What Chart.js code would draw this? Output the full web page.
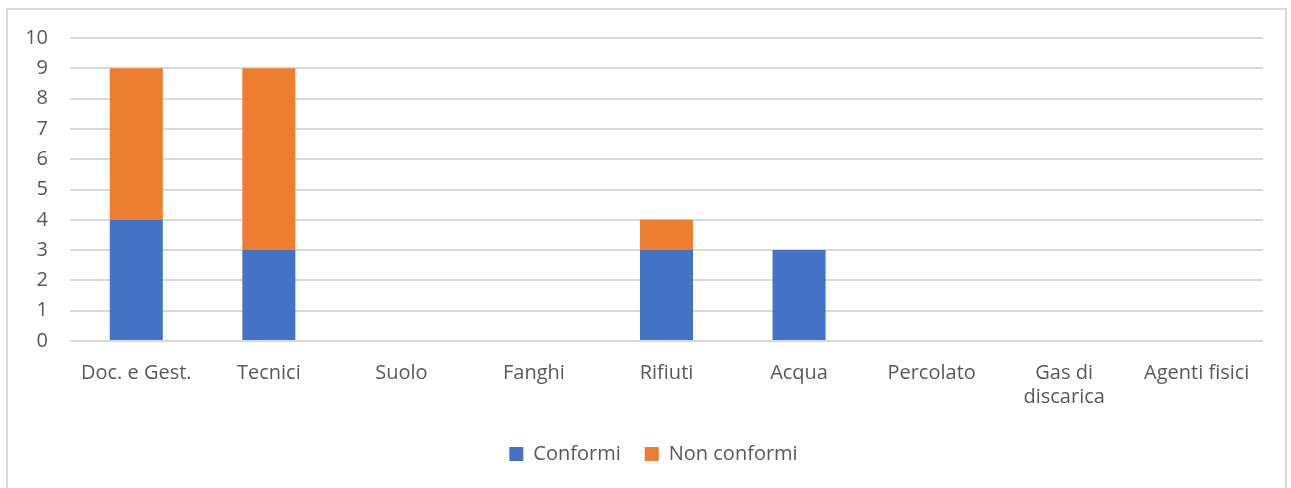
<!DOCTYPE html>
<html>
<head>
<meta charset="utf-8">
<script src="https://cdn.jsdelivr.net/npm/chart.js@4"></script>
<style>
  html, body { margin: 0; padding: 0; background: #fff; overflow: hidden; }
  #frame {
    position: absolute; left: 6px; top: 8px;
    width: 1277px; height: 490px;
    border: 2px solid #d9d9d9; background: #fff;
  }
  #cnv { position: absolute; left: 8px; top: 4px; display: block; }
</style>
</head>
<body>
<div id="frame"></div>
<canvas id="cnv" width="1277" height="484"></canvas>
<script>
const categories = ['Doc. e Gest.', 'Tecnici', 'Suolo', 'Fanghi', 'Rifiuti', 'Acqua', 'Percolato', ['Gas di', 'discarica'], 'Agenti fisici'];
const conformi = [4, 3, 0, 0, 3, 3, 0, 0, 0];
const nonConformi = [5, 6, 0, 0, 1, 0, 0, 0, 0];
const yTicks = [0, 1, 2, 3, 4, 5, 6, 7, 8, 9, 10];

const textColor = '#595959';
const gridColor = '#d9d9d9';
const font = { family: "'Open Sans', 'Liberation Sans', sans-serif", size: 20 };

// nudge the legend a little to the right of where the layout puts it
const legendShift = {
  id: 'legendShift',
  afterLayout(chart) {
    const lg = chart.legend;
    if (lg) { lg.left += 18; lg.right += 18; }
  }
};

const canvas = document.getElementById('cnv');
const chart = new Chart(canvas.getContext('2d'), {
  type: 'bar',
  data: {
    labels: categories,
    datasets: [
      { label: 'Conformi', data: conformi, backgroundColor: '#4472C4' },
      { label: 'Non conformi', data: nonConformi, backgroundColor: '#ED7D31' }
    ]
  },
  options: {
    responsive: false,
    animation: false,
    layout: { padding: { top: 18, right: 22, bottom: 14, left: 0 } },
    datasets: { bar: { barPercentage: 0.4, categoryPercentage: 1 } },
    scales: {
      x: {
        stacked: true,
        grid: { display: false },
        border: { display: false },
        ticks: { color: textColor, font: font, padding: 12, maxRotation: 0, autoSkip: false },
        afterFit: s => { s.height = 79; }
      },
      y: {
        stacked: true,
        min: 0, max: 10,
        afterBuildTicks: s => { s.ticks = yTicks.map(v => ({ value: v })); },
        grid: { color: gridColor, lineWidth: 2, drawTicks: false },
        border: { display: false },
        ticks: { color: textColor, font: font, padding: 22 },
        afterFit: s => { s.width = 62; }
      }
    },
    plugins: {
      legend: {
        position: 'bottom',
        labels: { color: textColor, font: font, boxWidth: 14, boxHeight: 14, padding: 24 }
      },
      tooltip: { enabled: false }
    }
  },
  plugins: [legendShift]
});
</script>
</body>
</html>
